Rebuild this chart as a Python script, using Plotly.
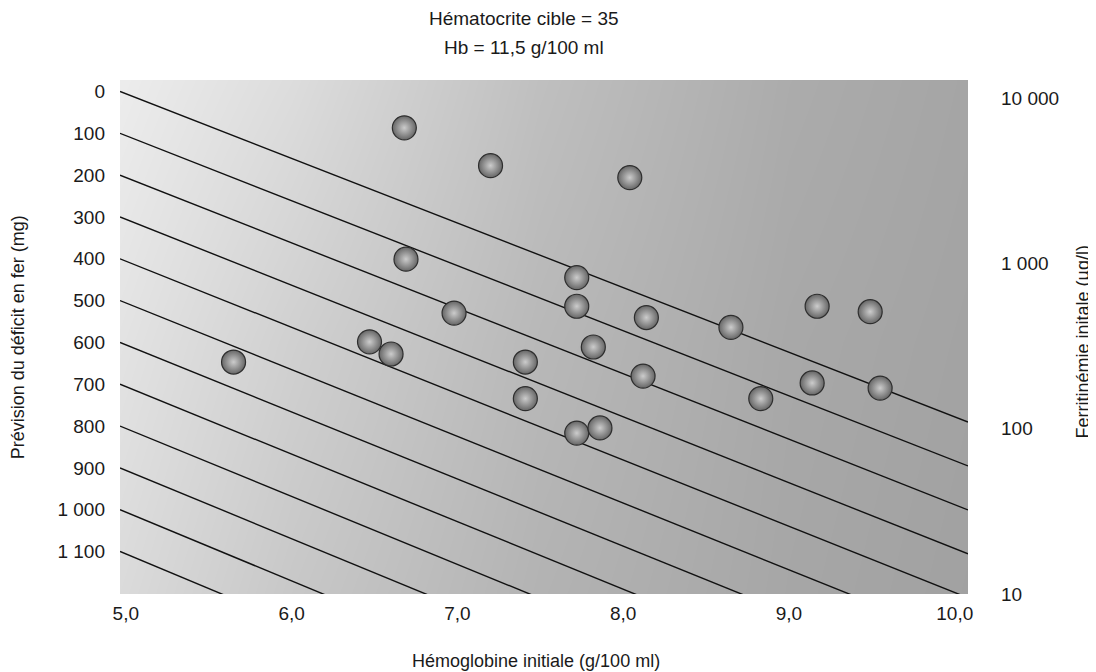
import plotly.graph_objects as go

# ---------------- data ----------------
HB = [6.68, 7.20, 8.04, 6.69, 7.72, 7.72, 6.98, 8.14, 8.65, 9.17, 9.49,
      6.47, 6.60, 5.65, 7.41, 7.82, 8.12, 7.41, 9.14, 9.55, 8.83, 7.72, 7.86]
FERRITIN = [6600, 3900, 3300, 1060, 820, 550, 500, 470, 410, 550, 510,
            335, 283, 253, 253, 312, 208, 152, 189, 176, 152, 94, 101]

LINE_LEVELS = [0, 100, 200, 300, 400, 500, 600, 700, 800, 900, 1000, 1100]
LINE_SLOPES = [154.5, 155.5, 156.5, 157.5, 158.5, 159.5, 160.5, 161.5,
               162.5, 163.5, 164.5, 165.5]   # mg per g/100 ml

X_TICKS = [5, 6, 7, 8, 9, 10]
X_TICKTEXT = ["5,0", "6,0", "7,0", "8,0", "9,0", "10,0"]
Y_TICKS = [0, 100, 200, 300, 400, 500, 600, 700, 800, 900, 1000, 1100]
Y_TICKTEXT = ["0", "100", "200", "300", "400", "500", "600", "700", "800",
              "900", "1 000", "1 100"]
Y2_TICKS = [10, 100, 1000, 10000]
Y2_TICKTEXT = ["10", "100", "1 000", "10 000"]

# ---------------- axes / style ----------------
X_RANGE = [4.965, 10.08]
Y_RANGE = [1201.6, -27.5]          # reversed
Y2_RANGE = [1.0, 4.109]            # log10

# background shading (grey levels)
BG_X = [4.8, 6.0, 7.5, 9.0, 10.3]
BG_Y = [-100, 600, 1300]
BG_Z = [[240, 222, 192, 172, 164],
        [230, 208, 184, 168, 162],
        [220, 198, 178, 166, 160]]

FONT = "Liberation Sans, Arial, sans-serif"
TXT = "#1a1a1a"

fig = go.Figure()

fig.add_trace(go.Heatmap(
    x=BG_X, y=BG_Y, z=BG_Z, zsmooth="best", zmin=0, zmax=255,
    colorscale=[[0, "rgb(0,0,0)"], [1, "rgb(255,255,255)"]],
    showscale=False, hoverinfo="skip", xaxis="x", yaxis="y"))

for lvl, slope in zip(LINE_LEVELS, LINE_SLOPES):
    x0, x1 = X_RANGE
    fig.add_trace(go.Scatter(
        x=[x0, x1], y=[lvl, lvl + slope * (x1 - x0)],
        mode="lines", line=dict(color="#111111", width=1.4),
        hoverinfo="skip", showlegend=False, xaxis="x", yaxis="y"))

fig.add_trace(go.Scatter(
    x=HB, y=FERRITIN, mode="markers", xaxis="x", yaxis="y2",
    marker=dict(size=24, color="#666666",
                gradient=dict(type="radial", color="#cccccc"),
                line=dict(color="#2e2e2e", width=1.2)),
    showlegend=False))

fig.update_layout(
    width=1088, height=664,
    margin=dict(l=112, r=128, t=72, b=78),
    paper_bgcolor="white", plot_bgcolor="white",
    font=dict(family=FONT, size=19, color=TXT),
    showlegend=False,
    xaxis=dict(range=X_RANGE, tickvals=X_TICKS, ticktext=X_TICKTEXT,
               showgrid=False, zeroline=False, showline=False, ticks="",
               ticklabelstandoff=6),
    yaxis=dict(range=Y_RANGE, tickvals=Y_TICKS, ticktext=Y_TICKTEXT,
               showgrid=False, zeroline=False, showline=False, ticks="",
               ticklabelstandoff=14),
    yaxis2=dict(type="log", range=Y2_RANGE, overlaying="y", side="right",
                tickvals=Y2_TICKS, ticktext=Y2_TICKTEXT,
                showgrid=False, zeroline=False, showline=False, ticks="",
                ticklabelstandoff=32),
    annotations=[
        dict(text="Hématocrite cible = 35", xref="paper", yref="paper",
             x=0.476, y=1.12, xanchor="center", yanchor="middle",
             showarrow=False, font=dict(size=19)),
        dict(text="Hb = 11,5 g/100 ml", xref="paper", yref="paper",
             x=0.476, y=1.064, xanchor="center", yanchor="middle",
             showarrow=False, font=dict(size=19)),
        dict(text="Hémoglobine initiale (g/100 ml)", xref="paper", yref="paper",
             x=0.490, y=-0.13, xanchor="center", yanchor="middle",
             showarrow=False, font=dict(size=18)),
        dict(text="Prévision du déficit en fer (mg)", xref="paper", yref="paper",
             x=-0.120, y=0.5, xanchor="center", yanchor="middle", textangle=-90,
             showarrow=False, font=dict(size=18)),
        dict(text="Ferritinémie initale (µg/l)", xref="paper", yref="paper",
             x=1.136, y=0.49, xanchor="center", yanchor="middle", textangle=-90,
             showarrow=False, font=dict(size=18)),
    ],
)

fig.write_html("out.html")
